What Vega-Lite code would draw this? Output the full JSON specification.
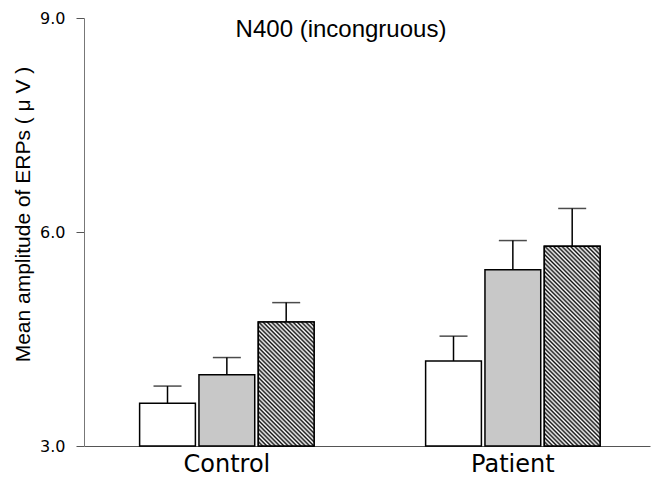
{
  "$schema": "https://vega.github.io/schema/vega-lite/v6.json",
  "width": 566,
  "height": 428,
  "autosize": {"type": "none"},
  "padding": {"left": 84, "top": 18, "right": 2, "bottom": 32},
  "background": "white",
  "title": {
    "text": "N400 (incongruous)",
    "font": "Liberation Sans",
    "fontSize": 24,
    "fontWeight": "normal",
    "color": "black",
    "anchor": "middle",
    "frame": "group",
    "baseline": "alphabetic",
    "offset": -21,
    "dy": 30,
    "dx": -26
  },
  "data": {
    "values": [
      {"group": "Control", "condition": "1", "mean": 3.60, "upper": 3.84},
      {"group": "Control", "condition": "2", "mean": 4.00, "upper": 4.24},
      {"group": "Control", "condition": "3", "mean": 4.74, "upper": 5.01},
      {"group": "Patient", "condition": "1", "mean": 4.19, "upper": 4.54},
      {"group": "Patient", "condition": "2", "mean": 5.47, "upper": 5.88},
      {"group": "Patient", "condition": "3", "mean": 5.80, "upper": 6.33}
    ]
  },
  "encoding": {
    "x": {
      "field": "group",
      "type": "nominal",
      "sort": ["Control", "Patient"],
      "scale": {"paddingInner": 0.39, "paddingOuter": 0.1845, "align": 0.527},
      "axis": {
        "title": null,
        "labelAngle": 0,
        "ticks": false,
        "domainColor": "#555555",
        "domainWidth": 1,
        "labelFont": "DejaVu Sans",
        "labelFontSize": 24,
        "labelColor": "black",
        "labelBaseline": "alphabetic",
        "labelPadding": 25
      }
    },
    "xOffset": {
      "field": "condition",
      "type": "nominal",
      "scale": {"paddingInner": 0.06, "paddingOuter": 0}
    }
  },
  "layer": [
    {
      "mark": {"type": "rule", "color": "black", "strokeWidth": 1.5},
      "encoding": {
        "y": {
          "field": "mean",
          "type": "quantitative",
          "scale": {"domain": [3, 9], "zero": false, "nice": false},
          "axis": {
            "title": "Mean amplitude of ERPs ( μ V )",
            "titleFont": "Liberation Sans",
            "titleFontSize": 21,
            "titleFontWeight": "normal",
            "titleColor": "black",
            "titleAngle": -90,
            "titleBaseline": "middle",
            "titleAlign": "center",
            "titleX": -61,
            "titleY": 196,
            "values": [3, 6, 9],
            "format": ".1f",
            "grid": false,
            "tickSize": 8,
            "tickColor": "#555555",
            "domainColor": "#777777",
            "labelFont": "DejaVu Sans",
            "labelFontSize": 16,
            "labelColor": "black",
            "labelPadding": 11
          }
        },
        "y2": {"field": "upper"}
      }
    },
    {
      "mark": {"type": "tick", "color": "black", "thickness": 1.5, "size": 28, "orient": "horizontal"},
      "encoding": {
        "y": {"field": "upper", "type": "quantitative", "scale": {"domain": [3, 9], "zero": false, "nice": false}}
      }
    },
    {
      "mark": {"type": "bar", "stroke": "black", "strokeWidth": 1.5},
      "encoding": {
        "y": {"field": "mean", "type": "quantitative", "scale": {"domain": [3, 9], "zero": false, "nice": false}},
        "y2": {"datum": 3},
        "fill": {
          "field": "condition",
          "type": "nominal",
          "scale": {"domain": ["1", "2", "3"], "range": ["white", "#c8c8c8", "#808080"]},
          "legend": null
        }
      }
    },
    {
      "transform": [{"filter": "datum.group === 'Control' && datum.condition === '3'"}],
      "mark": {
        "type": "bar",
        "stroke": "black",
        "strokeWidth": 1.5,
        "fill": {
          "gradient": "linear",
          "x1": 0, "y1": 1, "x2": 0.543, "y2": -0.206,
          "stops": [
            {"offset": 0, "color": "#111111"}, {"offset": 0.0119, "color": "#ffffff"},
            {"offset": 0.0238, "color": "#111111"}, {"offset": 0.0357, "color": "#ffffff"},
            {"offset": 0.0476, "color": "#111111"}, {"offset": 0.0595, "color": "#ffffff"},
            {"offset": 0.0714, "color": "#111111"}, {"offset": 0.0833, "color": "#ffffff"},
            {"offset": 0.0952, "color": "#111111"}, {"offset": 0.1071, "color": "#ffffff"},
            {"offset": 0.1190, "color": "#111111"}, {"offset": 0.1310, "color": "#ffffff"},
            {"offset": 0.1429, "color": "#111111"}, {"offset": 0.1548, "color": "#ffffff"},
            {"offset": 0.1667, "color": "#111111"}, {"offset": 0.1786, "color": "#ffffff"},
            {"offset": 0.1905, "color": "#111111"}, {"offset": 0.2024, "color": "#ffffff"},
            {"offset": 0.2143, "color": "#111111"}, {"offset": 0.2262, "color": "#ffffff"},
            {"offset": 0.2381, "color": "#111111"}, {"offset": 0.2500, "color": "#ffffff"},
            {"offset": 0.2619, "color": "#111111"}, {"offset": 0.2738, "color": "#ffffff"},
            {"offset": 0.2857, "color": "#111111"}, {"offset": 0.2976, "color": "#ffffff"},
            {"offset": 0.3095, "color": "#111111"}, {"offset": 0.3214, "color": "#ffffff"},
            {"offset": 0.3333, "color": "#111111"}, {"offset": 0.3452, "color": "#ffffff"},
            {"offset": 0.3571, "color": "#111111"}, {"offset": 0.3690, "color": "#ffffff"},
            {"offset": 0.3810, "color": "#111111"}, {"offset": 0.3929, "color": "#ffffff"},
            {"offset": 0.4048, "color": "#111111"}, {"offset": 0.4167, "color": "#ffffff"},
            {"offset": 0.4286, "color": "#111111"}, {"offset": 0.4405, "color": "#ffffff"},
            {"offset": 0.4524, "color": "#111111"}, {"offset": 0.4643, "color": "#ffffff"},
            {"offset": 0.4762, "color": "#111111"}, {"offset": 0.4881, "color": "#ffffff"},
            {"offset": 0.5000, "color": "#111111"}, {"offset": 0.5119, "color": "#ffffff"},
            {"offset": 0.5238, "color": "#111111"}, {"offset": 0.5357, "color": "#ffffff"},
            {"offset": 0.5476, "color": "#111111"}, {"offset": 0.5595, "color": "#ffffff"},
            {"offset": 0.5714, "color": "#111111"}, {"offset": 0.5833, "color": "#ffffff"},
            {"offset": 0.5952, "color": "#111111"}, {"offset": 0.6071, "color": "#ffffff"},
            {"offset": 0.6190, "color": "#111111"}, {"offset": 0.6310, "color": "#ffffff"},
            {"offset": 0.6429, "color": "#111111"}, {"offset": 0.6548, "color": "#ffffff"},
            {"offset": 0.6667, "color": "#111111"}, {"offset": 0.6786, "color": "#ffffff"},
            {"offset": 0.6905, "color": "#111111"}, {"offset": 0.7024, "color": "#ffffff"},
            {"offset": 0.7143, "color": "#111111"}, {"offset": 0.7262, "color": "#ffffff"},
            {"offset": 0.7381, "color": "#111111"}, {"offset": 0.7500, "color": "#ffffff"},
            {"offset": 0.7619, "color": "#111111"}, {"offset": 0.7738, "color": "#ffffff"},
            {"offset": 0.7857, "color": "#111111"}, {"offset": 0.7976, "color": "#ffffff"},
            {"offset": 0.8095, "color": "#111111"}, {"offset": 0.8214, "color": "#ffffff"},
            {"offset": 0.8333, "color": "#111111"}, {"offset": 0.8452, "color": "#ffffff"},
            {"offset": 0.8571, "color": "#111111"}, {"offset": 0.8690, "color": "#ffffff"},
            {"offset": 0.8810, "color": "#111111"}, {"offset": 0.8929, "color": "#ffffff"},
            {"offset": 0.9048, "color": "#111111"}, {"offset": 0.9167, "color": "#ffffff"},
            {"offset": 0.9286, "color": "#111111"}, {"offset": 0.9405, "color": "#ffffff"},
            {"offset": 0.9524, "color": "#111111"}, {"offset": 0.9643, "color": "#ffffff"},
            {"offset": 0.9762, "color": "#111111"}, {"offset": 0.9881, "color": "#ffffff"},
            {"offset": 1, "color": "#111111"}
          ]
        }
      },
      "encoding": {
        "y": {"field": "mean", "type": "quantitative", "scale": {"domain": [3, 9], "zero": false, "nice": false}},
        "y2": {"datum": 3}
      }
    },
    {
      "transform": [{"filter": "datum.group === 'Patient' && datum.condition === '3'"}],
      "mark": {
        "type": "bar",
        "stroke": "black",
        "strokeWidth": 1.5,
        "fill": {
          "gradient": "linear",
          "x1": 0, "y1": 1, "x2": 0.332, "y2": -0.187,
          "stops": [
            {"offset": 0, "color": "#111111"}, {"offset": 0.0083, "color": "#ffffff"},
            {"offset": 0.0167, "color": "#111111"}, {"offset": 0.0250, "color": "#ffffff"},
            {"offset": 0.0333, "color": "#111111"}, {"offset": 0.0417, "color": "#ffffff"},
            {"offset": 0.0500, "color": "#111111"}, {"offset": 0.0583, "color": "#ffffff"},
            {"offset": 0.0667, "color": "#111111"}, {"offset": 0.0750, "color": "#ffffff"},
            {"offset": 0.0833, "color": "#111111"}, {"offset": 0.0917, "color": "#ffffff"},
            {"offset": 0.1000, "color": "#111111"}, {"offset": 0.1083, "color": "#ffffff"},
            {"offset": 0.1167, "color": "#111111"}, {"offset": 0.1250, "color": "#ffffff"},
            {"offset": 0.1333, "color": "#111111"}, {"offset": 0.1417, "color": "#ffffff"},
            {"offset": 0.1500, "color": "#111111"}, {"offset": 0.1583, "color": "#ffffff"},
            {"offset": 0.1667, "color": "#111111"}, {"offset": 0.1750, "color": "#ffffff"},
            {"offset": 0.1833, "color": "#111111"}, {"offset": 0.1917, "color": "#ffffff"},
            {"offset": 0.2000, "color": "#111111"}, {"offset": 0.2083, "color": "#ffffff"},
            {"offset": 0.2167, "color": "#111111"}, {"offset": 0.2250, "color": "#ffffff"},
            {"offset": 0.2333, "color": "#111111"}, {"offset": 0.2417, "color": "#ffffff"},
            {"offset": 0.2500, "color": "#111111"}, {"offset": 0.2583, "color": "#ffffff"},
            {"offset": 0.2667, "color": "#111111"}, {"offset": 0.2750, "color": "#ffffff"},
            {"offset": 0.2833, "color": "#111111"}, {"offset": 0.2917, "color": "#ffffff"},
            {"offset": 0.3000, "color": "#111111"}, {"offset": 0.3083, "color": "#ffffff"},
            {"offset": 0.3167, "color": "#111111"}, {"offset": 0.3250, "color": "#ffffff"},
            {"offset": 0.3333, "color": "#111111"}, {"offset": 0.3417, "color": "#ffffff"},
            {"offset": 0.3500, "color": "#111111"}, {"offset": 0.3583, "color": "#ffffff"},
            {"offset": 0.3667, "color": "#111111"}, {"offset": 0.3750, "color": "#ffffff"},
            {"offset": 0.3833, "color": "#111111"}, {"offset": 0.3917, "color": "#ffffff"},
            {"offset": 0.4000, "color": "#111111"}, {"offset": 0.4083, "color": "#ffffff"},
            {"offset": 0.4167, "color": "#111111"}, {"offset": 0.4250, "color": "#ffffff"},
            {"offset": 0.4333, "color": "#111111"}, {"offset": 0.4417, "color": "#ffffff"},
            {"offset": 0.4500, "color": "#111111"}, {"offset": 0.4583, "color": "#ffffff"},
            {"offset": 0.4667, "color": "#111111"}, {"offset": 0.4750, "color": "#ffffff"},
            {"offset": 0.4833, "color": "#111111"}, {"offset": 0.4917, "color": "#ffffff"},
            {"offset": 0.5000, "color": "#111111"}, {"offset": 0.5083, "color": "#ffffff"},
            {"offset": 0.5167, "color": "#111111"}, {"offset": 0.5250, "color": "#ffffff"},
            {"offset": 0.5333, "color": "#111111"}, {"offset": 0.5417, "color": "#ffffff"},
            {"offset": 0.5500, "color": "#111111"}, {"offset": 0.5583, "color": "#ffffff"},
            {"offset": 0.5667, "color": "#111111"}, {"offset": 0.5750, "color": "#ffffff"},
            {"offset": 0.5833, "color": "#111111"}, {"offset": 0.5917, "color": "#ffffff"},
            {"offset": 0.6000, "color": "#111111"}, {"offset": 0.6083, "color": "#ffffff"},
            {"offset": 0.6167, "color": "#111111"}, {"offset": 0.6250, "color": "#ffffff"},
            {"offset": 0.6333, "color": "#111111"}, {"offset": 0.6417, "color": "#ffffff"},
            {"offset": 0.6500, "color": "#111111"}, {"offset": 0.6583, "color": "#ffffff"},
            {"offset": 0.6667, "color": "#111111"}, {"offset": 0.6750, "color": "#ffffff"},
            {"offset": 0.6833, "color": "#111111"}, {"offset": 0.6917, "color": "#ffffff"},
            {"offset": 0.7000, "color": "#111111"}, {"offset": 0.7083, "color": "#ffffff"},
            {"offset": 0.7167, "color": "#111111"}, {"offset": 0.7250, "color": "#ffffff"},
            {"offset": 0.7333, "color": "#111111"}, {"offset": 0.7417, "color": "#ffffff"},
            {"offset": 0.7500, "color": "#111111"}, {"offset": 0.7583, "color": "#ffffff"},
            {"offset": 0.7667, "color": "#111111"}, {"offset": 0.7750, "color": "#ffffff"},
            {"offset": 0.7833, "color": "#111111"}, {"offset": 0.7917, "color": "#ffffff"},
            {"offset": 0.8000, "color": "#111111"}, {"offset": 0.8083, "color": "#ffffff"},
            {"offset": 0.8167, "color": "#111111"}, {"offset": 0.8250, "color": "#ffffff"},
            {"offset": 0.8333, "color": "#111111"}, {"offset": 0.8417, "color": "#ffffff"},
            {"offset": 0.8500, "color": "#111111"}, {"offset": 0.8583, "color": "#ffffff"},
            {"offset": 0.8667, "color": "#111111"}, {"offset": 0.8750, "color": "#ffffff"},
            {"offset": 0.8833, "color": "#111111"}, {"offset": 0.8917, "color": "#ffffff"},
            {"offset": 0.9000, "color": "#111111"}, {"offset": 0.9083, "color": "#ffffff"},
            {"offset": 0.9167, "color": "#111111"}, {"offset": 0.9250, "color": "#ffffff"},
            {"offset": 0.9333, "color": "#111111"}, {"offset": 0.9417, "color": "#ffffff"},
            {"offset": 0.9500, "color": "#111111"}, {"offset": 0.9583, "color": "#ffffff"},
            {"offset": 0.9667, "color": "#111111"}, {"offset": 0.9750, "color": "#ffffff"},
            {"offset": 0.9833, "color": "#111111"}, {"offset": 0.9917, "color": "#ffffff"},
            {"offset": 1, "color": "#111111"}
          ]
        }
      },
      "encoding": {
        "y": {"field": "mean", "type": "quantitative", "scale": {"domain": [3, 9], "zero": false, "nice": false}},
        "y2": {"datum": 3}
      }
    }
  ],
  "config": {
    "view": {"stroke": null},
    "axisY": {"labelFontSize": 16, "labelFont": "DejaVu Sans", "labelColor": "black"}
  }
}
